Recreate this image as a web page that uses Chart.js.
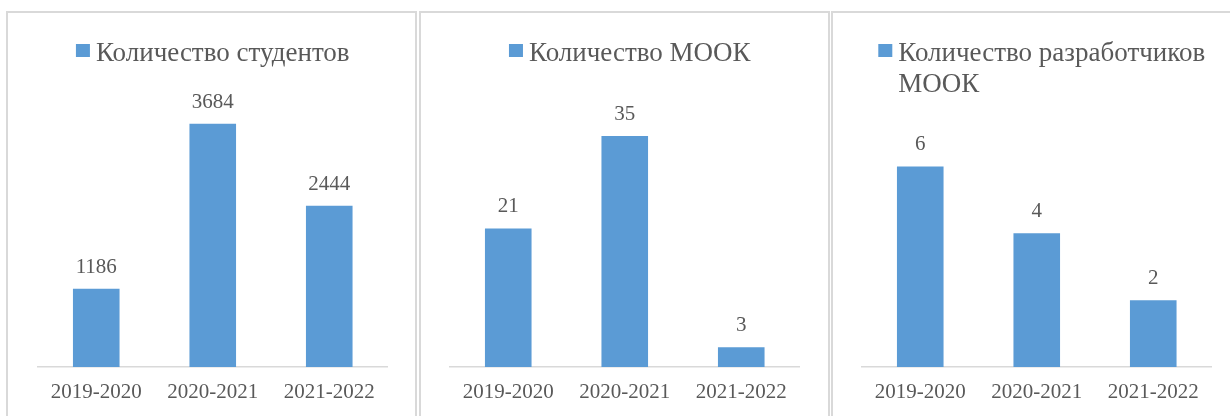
<!DOCTYPE html>
<html>
<head>
<meta charset="utf-8">
<script src="https://cdn.jsdelivr.net/npm/chart.js@4/dist/chart.umd.min.js"></script>
<style>
  html, body { margin: 0; padding: 0; background: #ffffff; width: 1230px; height: 416px; overflow: hidden; }
  .panel { position: absolute; top: 11px; height: 420px; border: 2px solid #d9d9d9; box-sizing: border-box; background: #fff; }
  .panel canvas { position: absolute; left: 0; top: 0; }
</style>
</head>
<body>
<div class="panel" id="p1" style="left:6px;width:411px;"><canvas id="c1" width="407" height="403"></canvas></div>
<div class="panel" id="p2" style="left:419px;width:411px;"><canvas id="c2" width="407" height="403"></canvas></div>
<div class="panel" id="p3" style="left:831px;width:411px;"><canvas id="c3" width="407" height="403"></canvas></div>
<script>
// ---- data ----
const categories = ['2019-2020', '2020-2021', '2021-2022'];
const studentsLabel = ['Количество студентов'];
const studentsValues = [1186, 3684, 2444];
const moocLabel = ['Количество МООК'];
const moocValues = [21, 35, 3];
const developersLabel = ['Количество разработчиков', 'МООК'];
const developersValues = [6, 4, 2];
const axisMax = [4000, 40, 7];

// ---- styles ----
const BAR = '#5B9BD5';
const TEXT = '#595959';
const SERIF = '"Liberation Serif", "Times New Roman", serif';

const boxLegend = {
  id: 'boxLegend',
  afterDraw(chart, args, opts) {
    const ctx = chart.ctx;
    const lines = chart.data.datasets[0].legendLines;
    ctx.save();
    ctx.font = opts.fontSize + 'px ' + SERIF;
    const textW = Math.max(...lines.map(l => ctx.measureText(l).width));
    const box = 14, gap = 6;
    const total = box + gap + textW;
    const ca = chart.chartArea;
    const x0 = (ca.left + ca.right) / 2 - total / 2 + (opts.shift || 0);
    ctx.fillStyle = BAR;
    ctx.fillRect(x0, opts.boxTop, box, 13);
    ctx.fillStyle = TEXT;
    ctx.textAlign = 'left';
    ctx.textBaseline = 'alphabetic';
    lines.forEach((l, i) => ctx.fillText(l, x0 + box + gap, opts.baseline + i * opts.lineGap));
    ctx.restore();
  }
};

const valueLabels = {
  id: 'valueLabels',
  afterDatasetsDraw(chart) {
    const ctx = chart.ctx;
    const meta = chart.getDatasetMeta(0);
    const data = chart.data.datasets[0].data;
    ctx.save();
    ctx.font = '21px ' + SERIF;
    ctx.fillStyle = TEXT;
    ctx.textAlign = 'center';
    ctx.textBaseline = 'alphabetic';
    meta.data.forEach((el, i) => ctx.fillText(String(data[i]), el.x, el.y - 16));
    ctx.restore();
  }
};

function makeChart(id, label, values, max, padLeft, padTop, legendShift) {
  return new Chart(document.getElementById(id), {
    type: 'bar',
    data: {
      labels: categories,
      datasets: [{
        label: label.join(' '),
        legendLines: label,
        data: values,
        backgroundColor: BAR,
        borderWidth: 0,
        barPercentage: 0.4,
        categoryPercentage: 1.0
      }]
    },
    options: {
      responsive: false,
      animation: false,
      devicePixelRatio: 1,
      layout: { padding: { left: padLeft, right: 407 - padLeft - 349.5, top: padTop, bottom: 0 } },
      plugins: {
        legend: { display: false },
        tooltip: { enabled: false },
        boxLegend: { fontSize: 27, boxTop: 31, baseline: 48, lineGap: 31, shift: legendShift }
      },
      scales: {
        x: {
          grid: { display: false, drawTicks: false },
          border: { display: true, color: '#d9d9d9', width: 1.5 },
          ticks: { color: TEXT, font: { family: SERIF, size: 21 }, padding: 13, maxRotation: 0 },
          afterFit(s) { s.height = 403 - 354; }
        },
        y: { display: false, min: 0, max: max }
      }
    },
    plugins: [boxLegend, valueLabels]
  });
}

makeChart('c1', studentsLabel, studentsValues, axisMax[0], 30, 90, 0);
makeChart('c2', moocLabel, moocValues, axisMax[1], 29, 90, 5);
makeChart('c3', developersLabel, developersValues, axisMax[2], 29, 120, 5);
</script>
</body>
</html>
